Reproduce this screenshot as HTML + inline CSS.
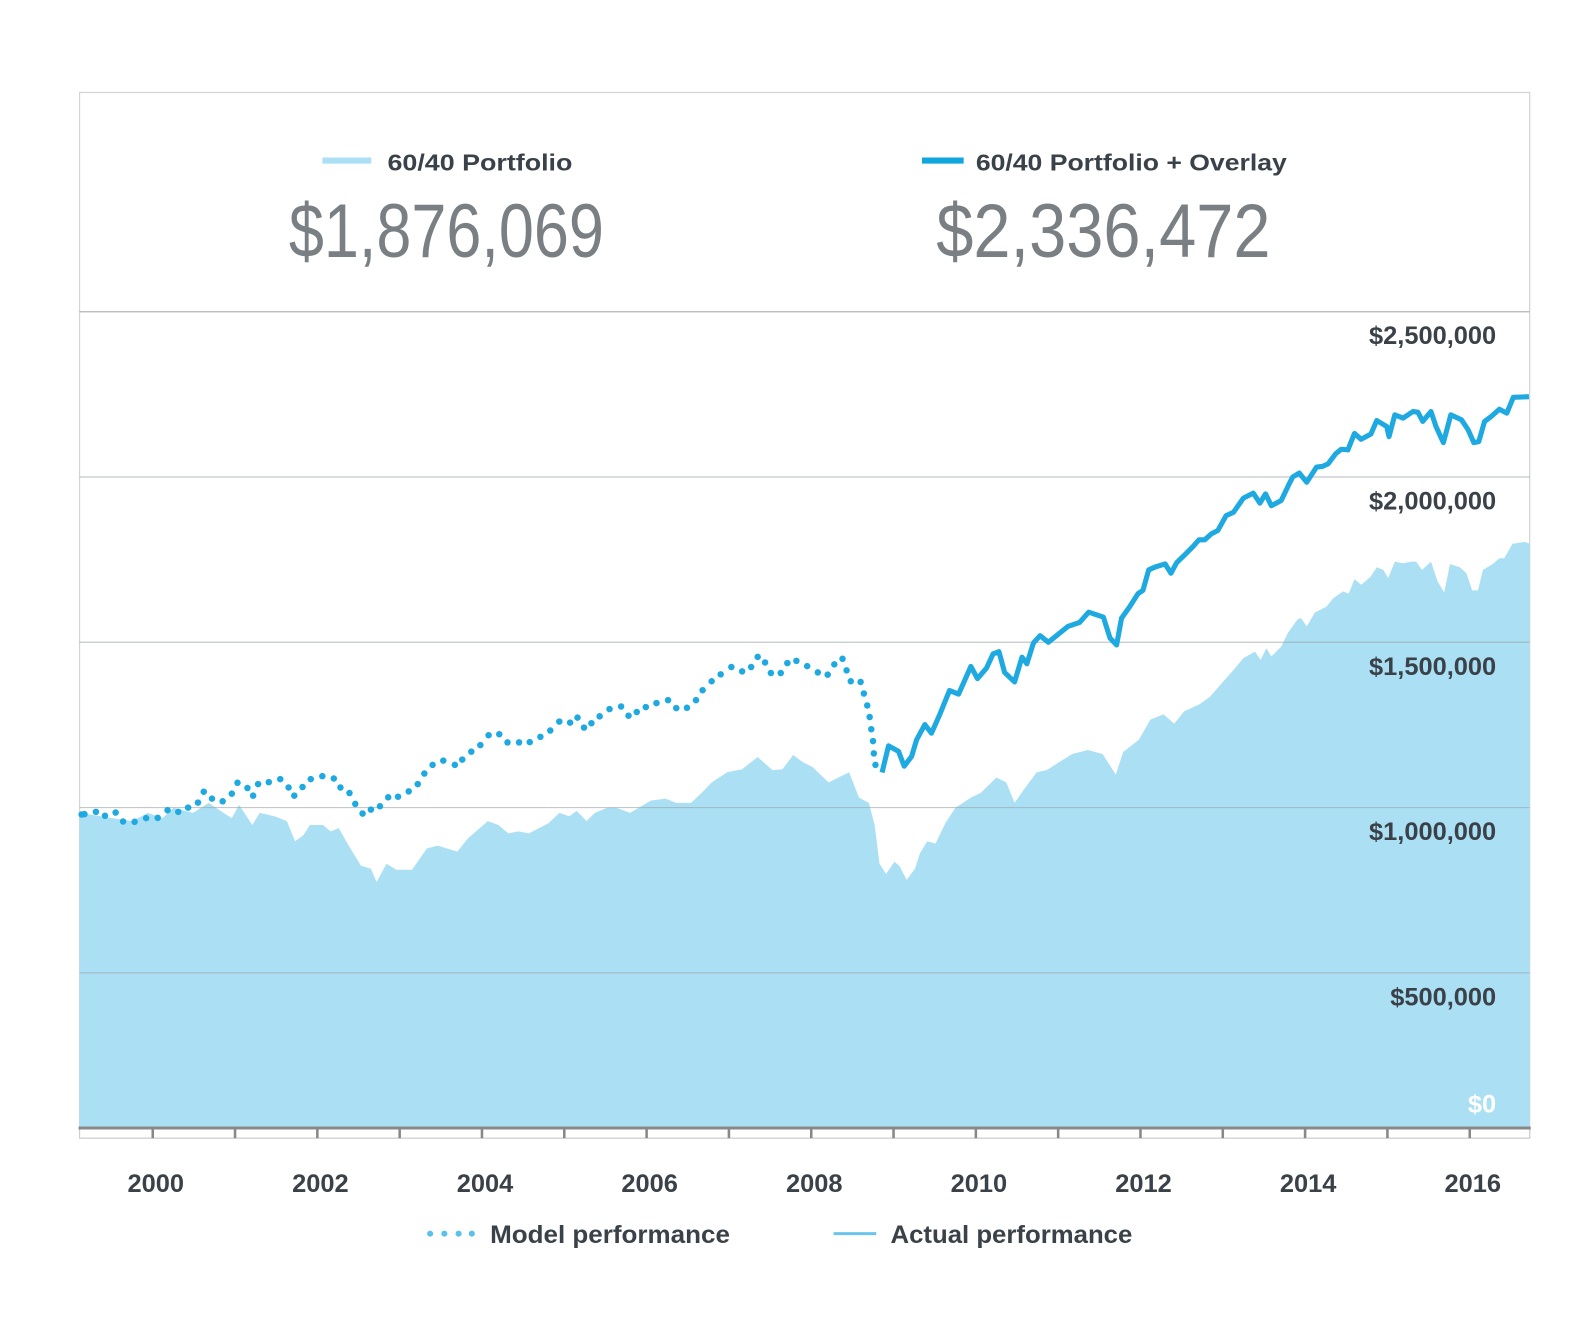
<!DOCTYPE html>
<html><head><meta charset="utf-8"><title>60/40 Portfolio vs Overlay</title>
<style>
html,body{margin:0;padding:0;background:#fff;}
svg{display:block;font-family:"Liberation Sans",Arial,sans-serif;}
</style></head>
<body>
<svg id="chart" width="1594" height="1318" viewBox="0 0 1568 1297" xmlns="http://www.w3.org/2000/svg">
  <rect x="78" y="91" width="1427" height="1029" fill="#fff" stroke="#d4d4d4" stroke-width="1.2"/>
  <g id="area-layer"></g>
  <g id="grid-layer"></g>
  <g id="line-layer"></g>
  <g id="axis-layer"></g>

  <g>
    <line x1="317" y1="158" x2="365" y2="158" stroke="#abe0f4" stroke-width="6"/>
    <text x="381" y="168" font-size="23" font-weight="bold" fill="#3a4148" textLength="182" lengthAdjust="spacingAndGlyphs">60/40 Portfolio</text>
    <text x="284" y="253" font-size="75" font-weight="normal" fill="#7a7f84" textLength="310" lengthAdjust="spacingAndGlyphs">$1,876,069</text>
    <line x1="907" y1="158" x2="948" y2="158" stroke="#12a6de" stroke-width="6"/>
    <text x="960" y="168" font-size="23" font-weight="bold" fill="#3a4148" textLength="306" lengthAdjust="spacingAndGlyphs">60/40 Portfolio + Overlay</text>
    <text x="921" y="253" font-size="75" font-weight="normal" fill="#7a7f84" textLength="329" lengthAdjust="spacingAndGlyphs">$2,336,472</text>
  </g>

  <g>
    <g fill="#5bc0ec">
      <circle cx="423" cy="1214" r="3"/><circle cx="437" cy="1214" r="3"/><circle cx="451" cy="1214" r="3"/><circle cx="464" cy="1214" r="3"/>
    </g>
    <text x="482" y="1223" font-size="25" font-weight="bold" fill="#3a4148" textLength="236" lengthAdjust="spacingAndGlyphs">Model performance</text>
    <line x1="820" y1="1214" x2="862" y2="1214" stroke="#6cc4ec" stroke-width="3"/>
    <text x="876" y="1223" font-size="25" font-weight="bold" fill="#3a4148" textLength="238" lengthAdjust="spacingAndGlyphs">Actual performance</text>
  </g>
</svg>
<script>
// ---- data (values in thousands of dollars, dates in decimal years) ----
const yTickValues = [500, 1000, 1500, 2000, 2500];
const yTickLabels = ["$500,000", "$1,000,000", "$1,500,000", "$2,000,000", "$2,500,000"];
const zeroLabel = "$0";
const xTickYears = [2000,2001,2002,2003,2004,2005,2006,2007,2008,2009,2010,2011,2012,2013,2014,2015,2016];
const xLabelYears = [2000,2002,2004,2006,2008,2010,2012,2014,2016];

// 60/40 Portfolio (area)
const baseDates = [1999.11,1999.51,1999.75,1999.94,2000.12,2000.25,2000.49,2000.68,2000.86,2000.96,2001.05,2001.21,2001.30,2001.48,2001.63,2001.73,2001.83,2001.91,2002.07,2002.16,2002.26,2002.35,2002.53,2002.65,2002.72,2002.84,2002.96,2003.15,2003.33,2003.46,2003.70,2003.83,2004.07,2004.20,2004.32,2004.44,2004.57,2004.81,2004.94,2005.06,2005.15,2005.27,2005.37,2005.52,2005.64,2005.80,2006.05,2006.23,2006.36,2006.54,2006.67,2006.79,2006.98,2007.16,2007.35,2007.53,2007.65,2007.78,2007.90,2008.02,2008.21,2008.33,2008.46,2008.58,2008.70,2008.77,2008.83,2008.91,2009.01,2009.07,2009.16,2009.26,2009.32,2009.41,2009.51,2009.63,2009.75,2009.94,2010.06,2010.25,2010.37,2010.47,2010.59,2010.74,2010.86,2011.01,2011.17,2011.36,2011.54,2011.70,2011.79,2011.98,2012.12,2012.28,2012.41,2012.53,2012.72,2012.84,2013.15,2013.25,2013.39,2013.46,2013.53,2013.59,2013.71,2013.79,2013.91,2013.95,2014.02,2014.12,2014.26,2014.34,2014.46,2014.53,2014.60,2014.68,2014.79,2014.87,2014.95,2015.01,2015.09,2015.19,2015.29,2015.35,2015.42,2015.53,2015.61,2015.69,2015.76,2015.88,2015.96,2016.03,2016.10,2016.16,2016.28,2016.36,2016.42,2016.52,2016.67,2016.73];
const baseValues = [984,968,959,984,968,999,984,1014,984,968,1008,947,984,974,959,898,916,947,947,928,938,898,824,815,775,830,812,812,876,885,867,907,959,947,922,928,922,953,984,974,990,959,984,999,999,984,1021,1027,1014,1014,1045,1076,1107,1116,1153,1113,1116,1159,1137,1122,1076,1091,1107,1030,1014,947,830,799,836,824,781,815,861,898,891,953,999,1030,1045,1091,1076,1014,1057,1107,1113,1137,1162,1174,1162,1100,1168,1205,1266,1282,1254,1291,1313,1334,1422,1452,1472,1447,1482,1457,1487,1528,1570,1573,1548,1590,1608,1633,1654,1647,1691,1674,1697,1727,1719,1694,1744,1739,1744,1744,1719,1744,1684,1651,1737,1727,1709,1657,1657,1719,1737,1754,1754,1798,1804,1798];

// 60/40 Portfolio + Overlay — model (dotted) segment
const modelDates = [1999.08,1999.17,1999.31,1999.42,1999.55,1999.64,1999.78,1999.92,2000.06,2000.18,2000.31,2000.43,2000.55,2000.62,2000.72,2000.85,2000.96,2001.03,2001.15,2001.22,2001.28,2001.41,2001.55,2001.65,2001.72,2001.82,2001.92,2002.06,2002.20,2002.28,2002.39,2002.46,2002.55,2002.65,2002.76,2002.86,2002.98,2003.11,2003.22,2003.30,2003.40,2003.53,2003.67,2003.76,2003.87,2003.98,2004.08,2004.21,2004.31,2004.45,2004.58,2004.71,2004.83,2004.94,2005.07,2005.16,2005.24,2005.33,2005.43,2005.55,2005.69,2005.78,2005.88,2005.99,2006.12,2006.26,2006.36,2006.49,2006.60,2006.68,2006.79,2006.90,2007.03,2007.16,2007.27,2007.35,2007.44,2007.51,2007.63,2007.71,2007.82,2007.95,2008.08,2008.20,2008.28,2008.38,2008.43,2008.48,2008.60,2008.64,2008.68,2008.71,2008.73,2008.75,2008.76,2008.78];
const modelValues = [979,980,987,975,985,958,957,968,969,992,987,1000,1015,1048,1027,1019,1042,1075,1059,1036,1071,1077,1086,1061,1036,1062,1086,1095,1088,1061,1044,1011,982,994,1004,1031,1033,1049,1071,1103,1129,1142,1129,1145,1169,1189,1219,1222,1197,1197,1198,1214,1233,1260,1257,1272,1242,1255,1276,1298,1306,1278,1289,1304,1316,1325,1301,1302,1325,1355,1382,1403,1425,1412,1425,1456,1439,1407,1407,1437,1444,1428,1409,1402,1433,1450,1415,1382,1380,1345,1309,1274,1237,1201,1164,1129];

// 60/40 Portfolio + Overlay — live (solid) segment
const liveDates = [2008.86,2008.94,2009.06,2009.13,2009.22,2009.28,2009.38,2009.46,2009.56,2009.68,2009.79,2009.94,2010.02,2010.13,2010.21,2010.28,2010.35,2010.47,2010.56,2010.62,2010.70,2010.78,2010.88,2010.98,2011.12,2011.26,2011.37,2011.55,2011.63,2011.71,2011.77,2011.87,2011.97,2012.03,2012.10,2012.19,2012.30,2012.37,2012.44,2012.54,2012.64,2012.71,2012.78,2012.86,2012.94,2013.04,2013.13,2013.25,2013.37,2013.45,2013.52,2013.59,2013.71,2013.81,2013.85,2013.93,2014.02,2014.14,2014.21,2014.28,2014.37,2014.44,2014.52,2014.60,2014.68,2014.80,2014.87,2014.99,2015.02,2015.09,2015.19,2015.31,2015.37,2015.43,2015.53,2015.59,2015.68,2015.77,2015.90,2015.98,2016.05,2016.11,2016.18,2016.26,2016.36,2016.45,2016.53,2016.72];
const liveValues = [1106,1187,1170,1125,1155,1205,1251,1225,1281,1354,1343,1427,1390,1422,1465,1472,1409,1380,1455,1435,1498,1520,1500,1520,1548,1560,1591,1576,1513,1492,1573,1608,1647,1657,1719,1729,1737,1709,1741,1765,1790,1810,1810,1828,1838,1883,1893,1936,1951,1921,1949,1913,1929,1981,2000,2012,1984,2030,2032,2040,2070,2084,2082,2132,2114,2130,2171,2153,2122,2188,2178,2198,2196,2168,2198,2153,2104,2188,2173,2143,2104,2107,2168,2183,2205,2193,2241,2243];

// ---- axis functions ----
const PLOT_LEFT = 78, PLOT_RIGHT = 1505, AXIS_Y = 1110;
function xs(t){ return 150 + 81 * (t - 2000); }
function ys(v){ return 1120 - 0.3253 * v; }

const NS = "http://www.w3.org/2000/svg";
function mk(tag, parent){ const e = document.createElementNS(NS, tag); parent.appendChild(e); return e; }

// Area
const areaLayer = document.getElementById('area-layer');
let pts = [[PLOT_LEFT, AXIS_Y], [PLOT_LEFT, ys(baseValues[0])]];
for (let i = 0; i < baseDates.length; i++) pts.push([Math.min(PLOT_RIGHT, Math.max(PLOT_LEFT, xs(baseDates[i]))), ys(baseValues[i])]);
pts.push([PLOT_RIGHT, ys(baseValues[baseValues.length-1])]);
pts.push([PLOT_RIGHT, AXIS_Y]);
const area = mk('polygon', areaLayer);


area.setAttribute('points', pts.map(p => p[0].toFixed(1) + ',' + p[1].toFixed(1)).join(' '));
area.setAttribute('fill', '#abe0f4');

// Grid + y labels
const grid = document.getElementById('grid-layer');
yTickValues.forEach((v, i) => {
  const y = ys(v);
  const ln = mk('line', grid);
  
  
  ln.setAttribute('x1', PLOT_LEFT); ln.setAttribute('x2', PLOT_RIGHT);
  ln.setAttribute('y1', y); ln.setAttribute('y2', y);
  ln.setAttribute('stroke', '#9aa3a8'); ln.setAttribute('stroke-opacity', v === 2500 ? '0.8' : '0.6'); ln.setAttribute('stroke-width', '1.2');
  const tx = mk('text', grid);
  
  
  tx.setAttribute('x', 1472); tx.setAttribute('y', y + 32);
  tx.setAttribute('text-anchor', 'end'); tx.setAttribute('font-size', '25'); tx.setAttribute('font-weight', 'bold');
  tx.setAttribute('fill', '#3a4148');
  tx.textContent = yTickLabels[i];
});
const z = mk('text', grid);


z.setAttribute('x', 1472); z.setAttribute('y', ys(0) - 25);
z.setAttribute('text-anchor', 'end'); z.setAttribute('font-size', '25'); z.setAttribute('font-weight', 'bold');
z.setAttribute('fill', '#ffffff');
z.textContent = zeroLabel;

// Lines
const lineLayer = document.getElementById('line-layer');
const model = mk('g', lineLayer);


for (let i = 0; i < modelDates.length; i++) {
  const c = mk('circle', model);
  
  
  c.setAttribute('cx', Math.max(PLOT_LEFT + 2, xs(modelDates[i])).toFixed(1));
  c.setAttribute('cy', ys(modelValues[i]).toFixed(1));
  c.setAttribute('r', '3.2');
  c.setAttribute('fill', '#1ea9e1');
}
const live = mk('polyline', lineLayer);


live.setAttribute('points', liveDates.map((t, i) => Math.min(PLOT_RIGHT, xs(t)).toFixed(1) + ',' + ys(liveValues[i]).toFixed(1)).join(' '));
live.setAttribute('fill', 'none'); live.setAttribute('stroke', '#1ea9e1'); live.setAttribute('stroke-width', '5');
live.setAttribute('stroke-linejoin', 'round');

// X axis
const ax = document.getElementById('axis-layer');
const box = mk('rect', ax);


box.setAttribute('x', PLOT_LEFT); box.setAttribute('y', AXIS_Y); box.setAttribute('width', PLOT_RIGHT - PLOT_LEFT); box.setAttribute('height', 10);
box.setAttribute('fill', '#fff'); box.setAttribute('stroke', '#cfcfcf'); box.setAttribute('stroke-width', '1.2');
const axl = mk('line', ax);


axl.setAttribute('x1', PLOT_LEFT - 1); axl.setAttribute('x2', PLOT_RIGHT + 1); axl.setAttribute('y1', AXIS_Y); axl.setAttribute('y2', AXIS_Y);
axl.setAttribute('stroke', '#888'); axl.setAttribute('stroke-width', '3');
xTickYears.forEach(yr => {
  const t = mk('line', ax);
  
  
  t.setAttribute('x1', xs(yr)); t.setAttribute('x2', xs(yr)); t.setAttribute('y1', AXIS_Y); t.setAttribute('y2', AXIS_Y + 10);
  t.setAttribute('stroke', '#888'); t.setAttribute('stroke-width', '2.5');
});
xLabelYears.forEach(yr => {
  const t = mk('text', ax);
  
  
  t.setAttribute('x', xs(yr) + 3); t.setAttribute('y', 1173);
  t.setAttribute('text-anchor', 'middle'); t.setAttribute('font-size', '25'); t.setAttribute('font-weight', 'bold');
  t.setAttribute('fill', '#3a4148');
  t.textContent = String(yr);
});
</script>
</body></html>
